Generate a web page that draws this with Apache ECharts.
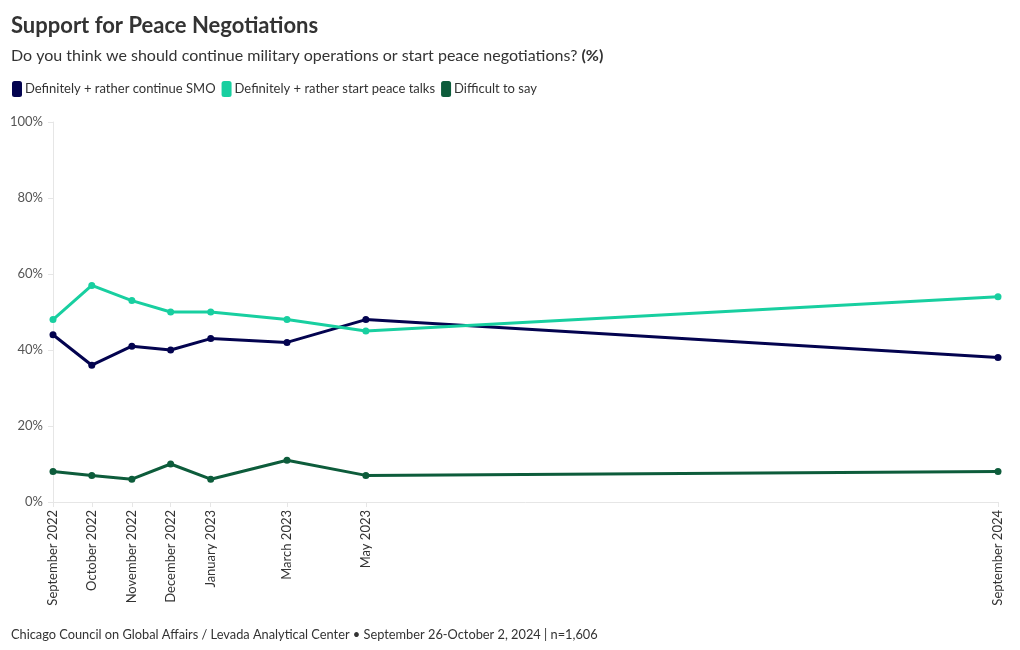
<!DOCTYPE html>
<html>
<head>
<meta charset="utf-8">
<script src="https://cdn.jsdelivr.net/npm/echarts@6/dist/echarts.min.js"></script>
<style>html,body{margin:0;padding:0;background:#fff}#c{width:1020px;height:650px}</style>
</head>
<body>
<div id="c"></div>
<script>
const dates = ['2022-09-01','2022-10-01','2022-11-01','2022-12-01','2023-01-01','2023-03-01','2023-05-01','2024-09-01'];
const dateLabels = ['September 2022','October 2022','November 2022','December 2022','January 2023','March 2023','May 2023','September 2024'];
const seriesNames = ['Definitely + rather continue SMO','Definitely + rather start peace talks','Difficult to say'];
const smo = [44,36,41,40,43,42,48,38];
const peace = [48,57,53,50,50,48,45,54];
const difficult = [8,7,6,10,6,11,7,8];
const yTicks = [0,20,40,60,80,100];
const colors = ['#03034f','#18cfa0','#0d5c3b'];

const FONT = 'Lato';
// day numbers since first survey (proportional time positions)
const t0 = Date.UTC(2022,8,1);
const days = dates.map(d => Math.round((new Date(d + 'T00:00:00Z').getTime() - t0) / 86400000));
const labelMap = {};
days.forEach((t,i)=>labelMap[t]=dateLabels[i]);

function mk(name, vals, color){
  return {
    name, type:'line', data: days.map((t,i)=>[t, vals[i]]),
    symbol:'circle', symbolSize:7, showSymbol:true,
    lineStyle:{width:3,color}, itemStyle:{color},
    emphasis:{disabled:true}
  };
}

const chart = echarts.init(document.getElementById('c'), null, {renderer:'canvas'});
chart.setOption({
  animation:false,
  textStyle:{fontFamily:FONT},
  title:[
    {text:'Support for Peace Negotiations', left:6, top:10,
     textStyle:{fontFamily:FONT,fontSize:22,fontWeight:'bold',color:'#333'}},
    {text:'Do you think we should continue military operations or start peace negotiations? {b|(%)}', left:6, top:43,
     textStyle:{fontFamily:FONT,fontSize:16,fontWeight:'normal',color:'#333',
       rich:{b:{fontFamily:FONT,fontSize:16,fontWeight:'bold',color:'#333'}}}},
    {text:'Chicago Council on Global Affairs / Levada Analytical Center • September 26-October 2, 2024 | n=1,606', left:6, top:623,
     textStyle:{fontFamily:FONT,fontSize:12.8,fontWeight:'normal',color:'#333'}}
  ],
  legend:{
    left:7, top:76, itemGap:6, itemWidth:10, itemHeight:16, icon:'roundRect',
    data: seriesNames,
    textStyle:{fontFamily:FONT,fontSize:13,color:'#333',padding:[0,0,0,-2]},
    selectedMode:false
  },
  grid:{left:53,right:22,top:122,bottom:148,containLabel:false},
  xAxis:{
    type:'value', min:days[0], max:days[days.length-1],
    axisLine:{show:true,onZero:false,lineStyle:{color:'#e6e6e6',width:1}},
    axisTick:{show:true,customValues:days,length:5,lineStyle:{color:'#e6e6e6'}},
    splitLine:{show:false},
    axisLabel:{customValues:days, rotate:90, fontFamily:FONT,fontSize:13,color:'#333',margin:8,
      formatter:(v)=>labelMap[v]||'', hideOverlap:false}
  },
  yAxis:{
    type:'value', min:0, max:100, interval:20,
    axisLine:{show:true,lineStyle:{color:'#e6e6e6'}},
    axisTick:{show:true,length:5,lineStyle:{color:'#e6e6e6'}},
    splitLine:{show:false},
    axisLabel:{fontFamily:FONT,fontSize:13,color:'#555',margin:10,formatter:(v)=>v+'%'}
  },
  series:[mk(seriesNames[0],smo,colors[0]),mk(seriesNames[1],peace,colors[1]),mk(seriesNames[2],difficult,colors[2])]
});
</script>
</body>
</html>
